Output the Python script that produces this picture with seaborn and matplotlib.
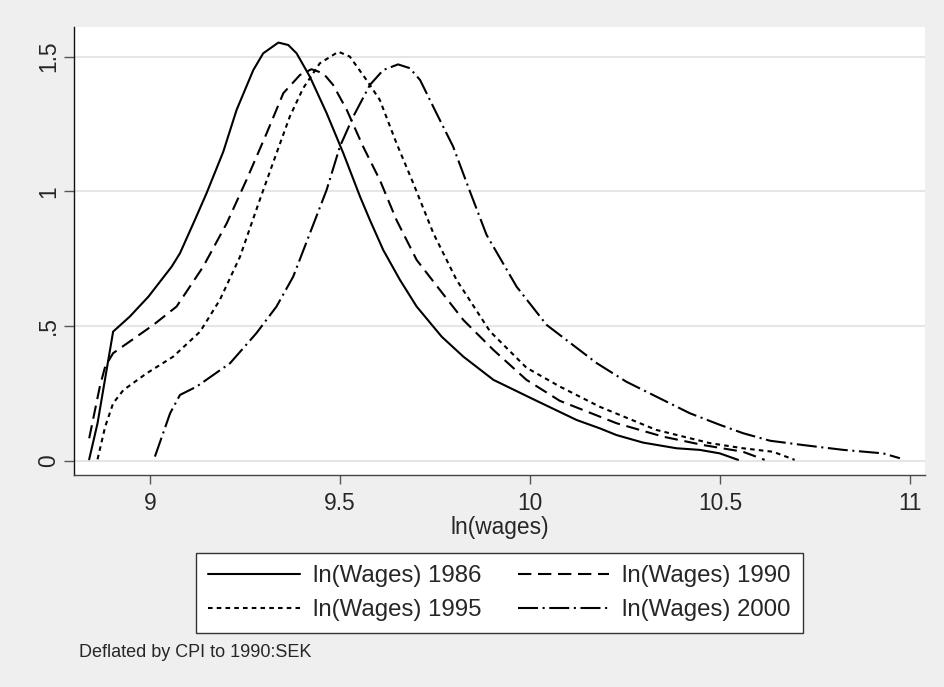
import matplotlib
matplotlib.use("Agg")
import matplotlib.pyplot as plt
import seaborn as sns
import pandas as pd

# kernel density of log wages
x86 = [8.84, 8.862, 8.903, 8.947, 8.996, 9.057, 9.079, 9.118, 9.149, 9.193, 9.228, 9.272,
       9.298, 9.338, 9.364, 9.386, 9.421, 9.465, 9.509, 9.553, 9.579, 9.614, 9.658, 9.702,
       9.768, 9.825, 9.904, 10.009, 10.123, 10.184, 10.228, 10.298, 10.386, 10.447, 10.5, 10.548]
y86 = [0.005, 0.139, 0.479, 0.535, 0.609, 0.72, 0.77, 0.893, 0.993, 1.147, 1.302, 1.45,
       1.512, 1.552, 1.543, 1.512, 1.425, 1.29, 1.141, 0.98, 0.893, 0.782, 0.671, 0.572,
       0.46, 0.386, 0.30, 0.228, 0.151, 0.12, 0.095, 0.067, 0.046, 0.04, 0.027, 0.003]

x90 = [8.84, 8.868, 8.882, 8.903, 9.009, 9.07, 9.14, 9.202, 9.254, 9.307, 9.351, 9.395,
       9.425, 9.456, 9.482, 9.518, 9.561, 9.605, 9.649, 9.702, 9.763, 9.825, 9.904, 9.991,
       10.079, 10.14, 10.228, 10.351, 10.456, 10.561, 10.618]
y90 = [0.083, 0.275, 0.349, 0.399, 0.504, 0.572, 0.72, 0.881, 1.042, 1.215, 1.364, 1.432,
       1.453, 1.438, 1.395, 1.302, 1.166, 1.042, 0.893, 0.745, 0.634, 0.522, 0.411, 0.30,
       0.222, 0.188, 0.139, 0.089, 0.058, 0.033, 0.003]

x95 = [8.862, 8.882, 8.903, 8.93, 8.991, 9.061, 9.132, 9.184, 9.237, 9.289, 9.333, 9.368,
       9.403, 9.447, 9.496, 9.526, 9.57, 9.605, 9.649, 9.693, 9.746, 9.807, 9.895, 9.991,
       10.079, 10.184, 10.333, 10.474, 10.561, 10.64, 10.697]
y95 = [0.005, 0.126, 0.213, 0.262, 0.324, 0.386, 0.479, 0.597, 0.757, 0.968, 1.141, 1.277,
       1.382, 1.475, 1.518, 1.50, 1.413, 1.339, 1.178, 1.03, 0.844, 0.671, 0.48, 0.345,
       0.275, 0.20, 0.114, 0.065, 0.046, 0.033, 0.003]

x00 = [9.013, 9.053, 9.079, 9.123, 9.211, 9.28, 9.333, 9.377, 9.421, 9.465, 9.5, 9.535,
       9.579, 9.614, 9.653, 9.684, 9.711, 9.754, 9.798, 9.842, 9.886, 9.965, 10.044, 10.096,
       10.176, 10.254, 10.351, 10.421, 10.5, 10.561, 10.632, 10.719, 10.825, 10.93, 10.974]
y00 = [0.015, 0.176, 0.244, 0.275, 0.362, 0.473, 0.572, 0.683, 0.844, 1.005, 1.166, 1.277,
       1.395, 1.45, 1.471, 1.457, 1.413, 1.29, 1.166, 1.0, 0.838, 0.646, 0.504, 0.448,
       0.362, 0.293, 0.225, 0.176, 0.133, 0.102, 0.074, 0.058, 0.04, 0.027, 0.009]

labels = ['ln(Wages) 1986', 'ln(Wages) 1990', 'ln(Wages) 1995', 'ln(Wages) 2000']
xticks = [9, 9.5, 10, 10.5, 11]
xticklabels = ['9', '9.5', '10', '10.5', '11']
yticks = [0, 0.5, 1, 1.5]
yticklabels = ['0', '.5', '1', '1.5']

frames = []
for lab, xs, ys in zip(labels, [x86, x90, x95, x00], [y86, y90, y95, y00]):
    frames.append(pd.DataFrame({'x': xs, 'y': ys, 'series': lab}))
df = pd.concat(frames, ignore_index=True)

sns.set_theme(style='white')
plt.rcParams['font.family'] = ['Liberation Sans', 'DejaVu Sans']

bg = '#efefef'
fig = plt.figure(figsize=(9.45, 6.87), dpi=100, facecolor=bg)
ax = fig.add_axes([0.0783, 0.3079, 0.9005, 0.6521])
ax.set_facecolor('white')

dash_map = {
    labels[0]: '',
    labels[1]: (6.4, 3.2),
    labels[2]: (2.2, 2.0),
    labels[3]: (9.6, 2.2, 1.0, 2.2),
}
sns.lineplot(data=df, x='x', y='y', style='series', style_order=labels, dashes=dash_map,
             color='black', lw=1.5, estimator=None, sort=False, legend=False, ax=ax)

ax.set_xlim(8.8, 11.04)
ax.set_ylim(-0.055, 1.608)
ax.set_xticks(xticks)
ax.set_xticklabels(xticklabels)
ax.set_yticks(yticks)
ax.set_yticklabels(yticklabels, rotation=90, va='center')
ax.yaxis.grid(True, color='#e6e6e6', lw=1.5)
ax.xaxis.grid(False)
ax.set_axisbelow(True)

for side in ['top', 'right']:
    ax.spines[side].set_visible(False)
ax.spines['left'].set_color('#111111')
ax.spines['bottom'].set_color('#444444')
ax.spines['left'].set_linewidth(1.0)
ax.spines['bottom'].set_linewidth(1.0)

ax.tick_params(axis='x', direction='out', length=6.5, width=1, color='#555555',
               labelsize=16.4, pad=5.3, bottom=True)
ax.tick_params(axis='y', direction='out', length=7, width=1, color='#555555',
               labelsize=16.4, pad=3, left=True)

ax.set_xlabel('ln(wages)', fontsize=16.4, labelpad=1)
ax.set_ylabel('')

# legend is filled column by column, so reorder to get 1986 | 1990 on the first row
lines = ax.get_lines()[:4]
order = [0, 2, 1, 3]
leg = fig.legend([lines[i] for i in order], [labels[i] for i in order], ncol=2,
                 loc='upper center', bbox_to_anchor=(0.5286, 1 - 553 / 687),
                 borderaxespad=0, fontsize=17.3,
                 handlelength=3.79, handletextpad=0.54, columnspacing=1.54,
                 borderpad=0.5, labelspacing=0.5, fancybox=False, framealpha=1)
leg.get_frame().set_edgecolor('#333333')
leg.get_frame().set_linewidth(1.0)

fig.text(79 / 945, 1 - 652.7 / 687, 'Deflated by CPI to 1990:SEK', fontsize=13,
         va='center', ha='left')

fig.savefig('out.png', dpi=100, facecolor=bg)
